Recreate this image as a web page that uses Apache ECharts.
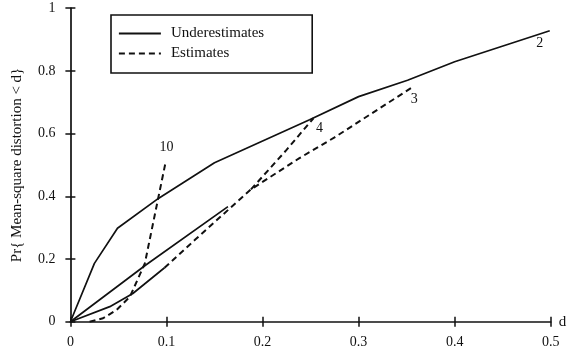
<!DOCTYPE html>
<html>
<head>
<meta charset="utf-8">
<script src="https://cdn.jsdelivr.net/npm/echarts@6/dist/echarts.min.js"></script>
<style>html,body{margin:0;padding:0;background:#fff}#c{width:575px;height:353px}</style>
</head>
<body>
<div id="c"></div>
<script>
// Tick values
const xTicks = [0, 0.1, 0.2, 0.3, 0.4, 0.5];
const yTicks = [0, 0.2, 0.4, 0.6, 0.8, 1];

// Underestimates (solid)
const under2 = [[0,0],[0.025,0.186],[0.049,0.298],[0.092,0.394],[0.150,0.507],[0.249,0.644],[0.300,0.718],[0.351,0.770],[0.400,0.829],[0.499,0.928]];
const underMid = [[0,0],[0.0785,0.181],[0.164,0.367]];
const underLow = [[0,0],[0.041,0.048],[0.065,0.090],[0.098,0.172]];

// Estimates (dashed)
const est3 = [[0.098,0.172],[0.130,0.262],[0.169,0.370],[0.188,0.422],[0.238,0.521],[0.275,0.588],[0.356,0.748]];
const est4 = [[0.188,0.422],[0.225,0.548],[0.253,0.649]];
const est10 = [[0.020,0],[0.034,0.011],[0.048,0.037],[0.062,0.080],[0.0775,0.186],[0.091,0.388],[0.099,0.507]];

// Curve labels
const curveLabels = ['2', '3', '4', '10'];

const FONT = 'Liberation Serif';
const chart = echarts.init(document.getElementById('c'), null, {renderer: 'canvas'});

function endMark(data, text, offset) {
  return {
    symbol: 'circle', symbolSize: 1, silent: true,
    itemStyle: {color: 'rgba(0,0,0,0)'},
    label: {show: true, position: 'inside', offset: offset, formatter: text,
            color: '#111', fontFamily: FONT, fontSize: 14},
    data: [{coord: data[data.length - 1]}]
  };
}
function solid(data, mp) {
  return {type: 'line', name: 'Underestimates', data: data, showSymbol: false, symbol: 'none',
          lineStyle: {color: '#111', width: 1.7, type: 'solid'}, itemStyle: {color: '#111'},
          animation: false, z: 3, markPoint: mp};
}
function dashed(data, mp) {
  return {type: 'line', name: 'Estimates', data: data, showSymbol: false, symbol: 'none',
          lineStyle: {color: '#111', width: 2, type: [6, 4]}, itemStyle: {color: '#111'},
          animation: false, z: 3, markPoint: mp};
}

const axisCommon = {type: 'value', splitLine: {show: false}, minorTick: {show: false}};

chart.setOption({
  animation: false,
  backgroundColor: '#fff',
  grid: {left: 70.4, right: 24.3, top: 8.2, bottom: 31.3, containLabel: false},
  legend: {
    left: 111, top: 15, orient: 'vertical',
    data: ['Underestimates', 'Estimates'],
    itemWidth: 42, itemHeight: 14, itemGap: 5,
    padding: [11, 48, 12, 7],
    borderColor: '#111', borderWidth: 1.6,
    itemStyle: {opacity: 0},
    lineStyle: {width: 1.8},
    textStyle: {fontFamily: FONT, fontSize: 15, color: '#111', padding: [0, 0, 0, 5]}
  },
  xAxis: [
    Object.assign({}, axisCommon, {
      min: 0, max: 0.5, interval: 0.1, position: 'bottom',
      name: 'd', nameLocation: 'end', nameGap: 8,
      nameTextStyle: {fontFamily: FONT, fontSize: 15, color: '#111', verticalAlign: 'middle'},
      axisLine: {show: true, lineStyle: {color: '#111', width: 1.7}},
      axisTick: {show: true, inside: true, length: 5, lineStyle: {color: '#111', width: 1.5}},
      axisLabel: {margin: 14, fontFamily: FONT, fontSize: 14, color: '#111',
                  formatter: v => xTicks.includes(+v.toFixed(2)) ? String(+v.toFixed(2)) : ''}
    }),
    Object.assign({}, axisCommon, {
      min: 0, max: 0.5, interval: 0.1, position: 'bottom',
      axisLine: {show: false},
      axisTick: {show: true, inside: false, length: 5, lineStyle: {color: '#111', width: 1.5}},
      axisLabel: {show: false}
    })
  ],
  yAxis: [
    Object.assign({}, axisCommon, {
      min: 0, max: 1, interval: 0.2, position: 'left',
      name: 'Pr{ Mean-square distortion < d}', nameLocation: 'middle', nameGap: 46, nameRotate: 90,
      nameTextStyle: {fontFamily: FONT, fontSize: 15, color: '#111'},
      axisLine: {show: true, lineStyle: {color: '#111', width: 1.7}},
      axisTick: {show: true, inside: true, length: 5, lineStyle: {color: '#111', width: 1.5}},
      axisLabel: {margin: 15, fontFamily: FONT, fontSize: 14, color: '#111',
                  formatter: v => yTicks.includes(+v.toFixed(2)) ? String(+v.toFixed(2)) : ''}
    }),
    Object.assign({}, axisCommon, {
      min: 0, max: 1, interval: 0.2, position: 'left',
      axisLine: {show: false},
      axisTick: {show: true, inside: false, length: 5, lineStyle: {color: '#111', width: 1.5}},
      axisLabel: {show: false}
    })
  ],
  series: [
    solid(under2, endMark(under2, curveLabels[0], [-10, 13])),
    solid(underMid),
    solid(underLow),
    dashed(est3, endMark(est3, curveLabels[1], [2, 12])),
    dashed(est4, endMark(est4, curveLabels[2], [6, 10])),
    dashed(est10, endMark(est10, curveLabels[3], [1, -15]))
  ]
});
</script>
</body>
</html>
